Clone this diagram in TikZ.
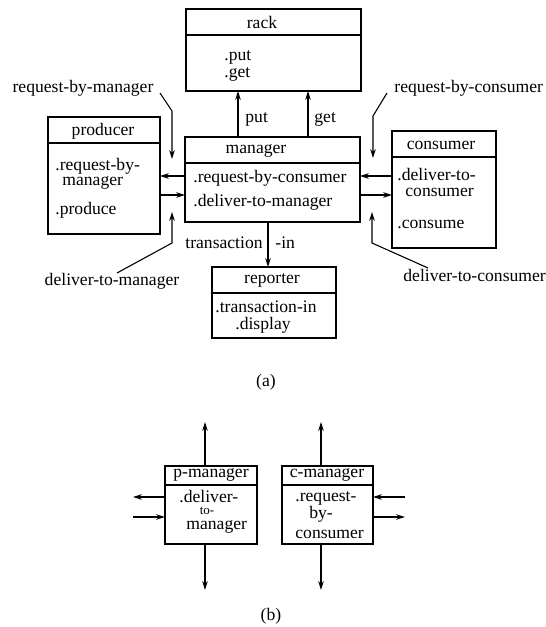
\documentclass[tikz,border=0pt]{standalone}
\usepackage{fontspec}
\setmainfont{Liberation Serif}
\usetikzlibrary{arrows.meta}
\begin{document}
\begin{tikzpicture}[x=0.5pt,y=-0.5pt,
  font=\fontsize{8.8}{10}\selectfont,
  box/.style={draw, line width=0.7pt, anchor=north west, inner sep=0pt, outer sep=0pt},
  sepline/.style={line width=0.7pt},
  ttl/.style={inner sep=0pt, anchor=center},
  lft/.style={inner sep=0pt, anchor=west},
  rgt/.style={inner sep=0pt, anchor=east},
  arr/.style={line width=0.55pt, -{Stealth[length=4.5pt,width=2.8pt]}},
  small/.style={font=\fontsize{6.5}{7}\selectfont}]
\useasboundingbox (0,0) rectangle (546,627);

% ---------- (a) ----------
% rack
\node[box, minimum width=87.5pt, minimum height=41pt] (rack) at (186,9) {};
\draw[sepline] (rack.west |- 0,35) -- (rack.east |- 0,35);
\node[ttl] (rackT) at (262,22) {rack};
\node[lft] (rackP) at (224,57) {.put};
\node[lft] (rackG) at (224,74) {.get};

% manager
\node[box, minimum width=87.5pt, minimum height=42.5pt] (manager) at (185,137) {};
\draw[sepline] (manager.west |- 0,163) -- (manager.east |- 0,163);
\node[ttl] (managerT) at (256,151) {manager};
\node[lft] (managerA) at (193,178) {.request-by-consumer};
\node[lft] (managerB) at (193,202) {.deliver-to-manager};

% producer
\node[box, minimum width=56pt, minimum height=58.5pt] (producer) at (48,117) {};
\draw[sepline] (producer.west |- 0,143) -- (producer.east |- 0,143);
\node[ttl] (producerT) at (103,131) {producer};
\node[lft] (producerA) at (55,166) {.request-by-};
\node[lft] (producerB) at (62,183) {manager};
\node[lft] (producerC) at (55,210) {.produce};

% consumer
\node[box, minimum width=52pt, minimum height=58.5pt] (consumer) at (392,131) {};
\draw[sepline] (consumer.west |- 0,157) -- (consumer.east |- 0,157);
\node[ttl] (consumerT) at (441,145) {consumer};
\node[lft] (consumerA) at (397,175) {.deliver-to-};
\node[lft] (consumerB) at (405,192) {consumer};
\node[lft] (consumerC) at (397,224) {.consume};

% reporter
\node[box, minimum width=62pt, minimum height=35.5pt] (reporter) at (212,267) {};
\draw[sepline] (reporter.west |- 0,293) -- (reporter.east |- 0,293);
\node[ttl] (reporterT) at (272,280) {reporter};
\node[lft] (reporterA) at (215,307) {.transaction-in};
\node[lft] (reporterB) at (235,325) {.display};

% manager -> rack
\coordinate (putx) at (238,0);
\coordinate (getx) at (308,0);
\draw[arr] (manager.north -| putx) -- (rack.south -| putx);
\draw[arr] (manager.north -| getx) -- (rack.south -| getx);
\node[lft] (putL) at (245,119) {put};
\node[lft] (getL) at (314,119) {get};

% manager <-> producer
\draw[arr] (manager.west |- 0,176) -- (producer.east |- 0,176);
\draw[arr] (producer.east |- 0,195) -- (manager.west |- 0,195);

% manager <-> consumer
\draw[arr] (consumer.west |- 0,176) -- (manager.east |- 0,176);
\draw[arr] (manager.east |- 0,195) -- (consumer.west |- 0,195);

% manager -> reporter
\coordinate (trx) at (268,0);
\draw[arr] (manager.south -| trx) -- (reporter.north -| trx);
\node[rgt] (trL) at (263,243) {transaction};
\node[lft] (inL) at (275,243) {-in};

% labels with leader arrows
\node[ttl] (rbm) at (83,88) {request-by-manager};
\coordinate (rbm1) at (160,93);
\coordinate (rbm2) at (172,111);
\coordinate (rbm3) at (172,159);
\draw[arr] (rbm1) -- (rbm2) -- (rbm3);

\node[ttl] (dtm) at (112,281) {deliver-to-manager};
\coordinate (dtm1) at (117,273);
\coordinate (dtm2) at (172,243);
\coordinate (dtm3) at (172,212);
\draw[arr] (dtm1) -- (dtm2) -- (dtm3);

\node[lft] (rbc) at (394,88) {request-by-consumer};
\coordinate (rbc1) at (387,93);
\coordinate (rbc2) at (373,116);
\coordinate (rbc3) at (373,158);
\draw[arr] (rbc1) -- (rbc2) -- (rbc3);

\node[lft] (dtc) at (403,275) {deliver-to-consumer};
\coordinate (dtc1) at (428,268);
\coordinate (dtc2) at (372,243);
\coordinate (dtc3) at (372,212);
\draw[arr] (dtc1) -- (dtc2) -- (dtc3);

\node[ttl] (capa) at (266,382) {(a)};

% ---------- (b) ----------
\node[box, minimum width=46pt, minimum height=39pt] (pm) at (165,466) {};
\draw[sepline] (pm.west |- 0,485) -- (pm.east |- 0,485);
\node[ttl] (pmT) at (211,475) {p-manager};
\node[lft] (pmA) at (179,497) {.deliver-};
\node[ttl, small] (pmB) at (207,511) {to-};
\node[lft] (pmC) at (186,527) {manager};

\node[box, minimum width=45.5pt, minimum height=39pt] (cm) at (282,466) {};
\draw[sepline] (cm.west |- 0,485) -- (cm.east |- 0,485);
\node[ttl] (cmT) at (327,475) {c-manager};
\node[lft] (cmA) at (295,498) {.request-};
\node[ttl] (cmB) at (321,514) {by-};
\node[lft] (cmC) at (295,534) {consumer};

\coordinate (pmUp) at (205,422);
\coordinate (pmDn) at (205,590);
\coordinate (pmL1) at (133,497);
\coordinate (pmL2) at (133,517);
\draw[arr] (pm.north -| pmUp) -- (pmUp);
\draw[arr] (pm.south -| pmDn) -- (pmDn);
\draw[arr] (pm.west |- pmL1) -- (pmL1);
\draw[arr] (pmL2) -- (pm.west |- pmL2);

\coordinate (cmUp) at (321,422);
\coordinate (cmDn) at (321,590);
\coordinate (cmR1) at (405,497);
\coordinate (cmR2) at (405,517);
\draw[arr] (cm.north -| cmUp) -- (cmUp);
\draw[arr] (cm.south -| cmDn) -- (cmDn);
\draw[arr] (cmR1) -- (cm.east |- cmR1);
\draw[arr] (cm.east |- cmR2) -- (cmR2);

\node[ttl] (capb) at (271,616) {(b)};
\end{tikzpicture}
\end{document}
